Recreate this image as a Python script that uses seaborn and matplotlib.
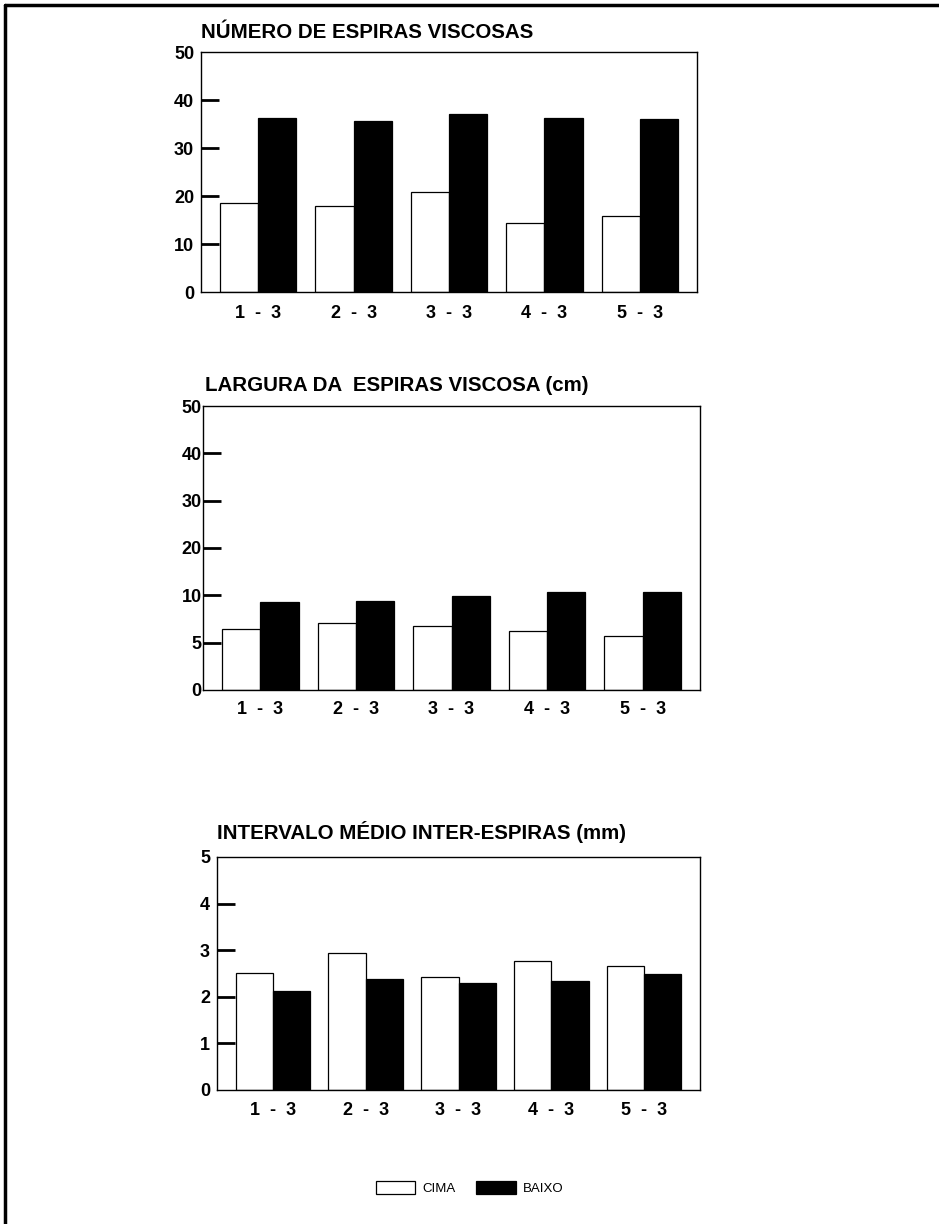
import numpy as np
import pandas as pd
import matplotlib.pyplot as plt
from matplotlib.patches import Patch
from matplotlib.lines import Line2D
import seaborn as sns

# data
groups = ['1  -  3', '2  -  3', '3  -  3', '4  -  3', '5  -  3']
series = ['CIMA', 'BAIXO']

numero_cima = [18.5, 17.9, 20.9, 14.4, 15.8]
numero_baixo = [36.3, 35.7, 37.0, 36.3, 36.1]

largura_cima = [6.4, 7.1, 6.8, 6.2, 5.7]
largura_baixo = [9.3, 9.4, 9.9, 10.8, 10.65]

intervalo_cima = [2.5, 2.93, 2.42, 2.76, 2.66]
intervalo_baixo = [2.13, 2.38, 2.29, 2.34, 2.48]

titles = ['NÚMERO DE ESPIRAS VISCOSAS',
          'LARGURA DA  ESPIRAS VISCOSA (cm)',
          'INTERVALO MÉDIO INTER-ESPIRAS (mm)']
yticks_1 = [0, 10, 20, 30, 40, 50]
yticks_2 = [0, 5, 10, 20, 30, 40, 50]
yticks_3 = [0, 1, 2, 3, 4, 5]


def long_df(cima, baixo):
    return pd.DataFrame({
        'grupo': groups * 2,
        'serie': ['CIMA'] * 5 + ['BAIXO'] * 5,
        'valor': list(cima) + list(baixo),
    })


sns.set_style('white', {'text.color': 'black', 'xtick.color': 'black',
                        'ytick.color': 'black', 'axes.edgecolor': 'black'})
plt.rcParams['font.family'] = ['Liberation Sans', 'DejaVu Sans']
plt.rcParams['font.weight'] = 'bold'

fig = plt.figure(figsize=(9.39, 12.24), dpi=100)
palette = {'CIMA': 'white', 'BAIXO': 'black'}

# axes rectangles (figure fraction)
rects = [[0.2141, 0.7614, 0.5282, 0.1961],
         [0.2162, 0.4363, 0.5293, 0.2320],
         [0.2311, 0.1095, 0.5144, 0.1904]]
title_y = [1 - 38 / 1224, 1 - 391 / 1224, 1 - 839 / 1224]
data = [(numero_cima, numero_baixo), (largura_cima, largura_baixo),
        (intervalo_cima, intervalo_baixo)]
ticks = [yticks_1, yticks_2, yticks_3]
limits = [(0, 50), (0, 50), (0, 5)]
label_pad = [9, 8, 9]


# chart 2 has a stretched axis: 0-10 in steps of 5, then 10-50 in steps of 10
def fwd(y):
    y = np.asarray(y, dtype=float)
    return np.where(y <= 10, y / 5, 2 + (y - 10) / 10)


def inv(x):
    x = np.asarray(x, dtype=float)
    return np.where(x <= 2, x * 5, 10 + (x - 2) * 10)


for i in range(3):
    ax = fig.add_axes(rects[i])
    df = long_df(*data[i])
    sns.barplot(data=df, x='grupo', y='valor', hue='serie', hue_order=series,
                palette=palette, edgecolor='black', linewidth=0.9,
                width=0.8, saturation=1, legend=False, ax=ax)
    if i == 1:
        ax.set_yscale('function', functions=(fwd, inv))
    ax.set_ylim(*limits[i])
    ax.set_xlim(-0.6, 4.6)
    ax.set_yticks(ticks[i])
    ax.set_yticklabels([str(t) for t in ticks[i]], fontsize=13, fontweight='bold')
    ax.set_xticks(range(5))
    ax.set_xticklabels(groups, fontsize=13, fontweight='bold')
    ax.tick_params(axis='y', left=True, direction='in', length=13, width=2,
                   color='black', pad=5 if i != 1 else 1)
    ax.tick_params(axis='x', bottom=False, length=0, pad=label_pad[i])
    # no tick marks at the ends of the scale
    yt = ax.yaxis.get_major_ticks()
    yt[0].tick1line.set_visible(False)
    yt[-1].tick1line.set_visible(False)
    ax.set_xlabel('')
    ax.set_ylabel('')
    for s in ax.spines.values():
        s.set_visible(True)
        s.set_color('black')
        s.set_linewidth(1.0)
    fig.text(rects[i][0] + (0.002 if i == 1 else 0), title_y[i], titles[i],
             fontsize=14.8, fontweight='bold', ha='left', va='baseline', color='black')

# legend
handles = [Patch(facecolor='white', edgecolor='black', linewidth=0.9, label='CIMA'),
           Patch(facecolor='black', edgecolor='black', linewidth=0.9, label='BAIXO')]
fig.legend(handles=handles, loc='center', bbox_to_anchor=(0.5, 1 - 1188 / 1224),
           ncol=2, frameon=False, handlelength=3.0, handleheight=1.1,
           handletextpad=0.5, columnspacing=1.6,
           prop={'size': 9.5, 'weight': 'normal'}, labelcolor='black')

# page frame (top and left edge)
fig.add_artist(Line2D([5 / 939, 1], [1 - 5 / 1224, 1 - 5 / 1224], color='black', lw=2.5,
                      transform=fig.transFigure))
fig.add_artist(Line2D([5 / 939, 5 / 939], [0, 1 - 5 / 1224], color='black', lw=2.5,
                      transform=fig.transFigure))

fig.savefig('out.png', dpi=100, facecolor='white')
